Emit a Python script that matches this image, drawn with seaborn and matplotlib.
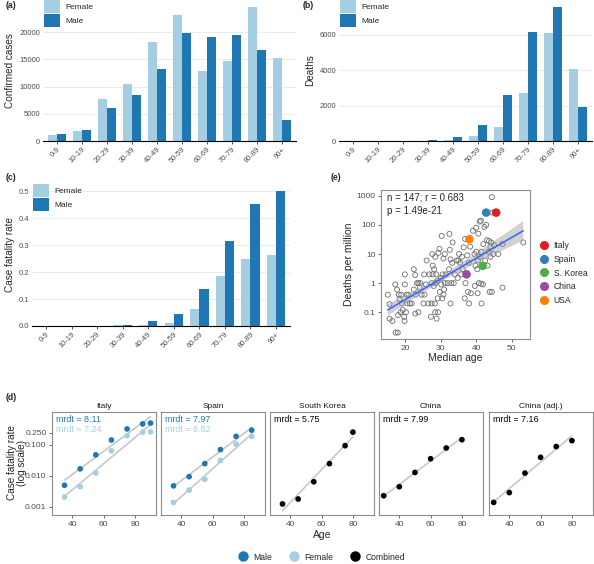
import numpy as np
import pandas as pd
import matplotlib
matplotlib.use("Agg")
import matplotlib.pyplot as plt
from matplotlib.lines import Line2D
import seaborn as sns

# ---- data ----
age_groups = ["0-9", "10-19", "20-29", "30-39", "40-49", "50-59", "60-69", "70-79", "80-89", "90+"]
cases_female = [1030, 1880, 7720, 10450, 18180, 23100, 12950, 14710, 24680, 15200]
cases_male = [1200, 1950, 6140, 8510, 13190, 19820, 19090, 19510, 16780, 3890]
deaths_female = [0, 0, 2, 22, 82, 280, 785, 2690, 6090, 4055]
deaths_male = [0, 0, 3, 43, 225, 880, 2580, 6170, 7590, 1945]
cfr_female = [0, 0, 0.0003, 0.0021, 0.0045, 0.012, 0.062, 0.184, 0.247, 0.265]
cfr_male = [0, 0, 0.0005, 0.005, 0.017, 0.045, 0.136, 0.317, 0.453, 0.502]

# panel (d)
italy_age = [35, 45, 55, 65, 75, 85, 90]
italy_male = [0.005, 0.017, 0.048, 0.145, 0.33, 0.48, 0.51]
italy_female = [0.0021, 0.0045, 0.0126, 0.065, 0.2, 0.26, 0.265]
spain_age = [35, 45, 55, 65, 75, 85]
spain_male = [0.0048, 0.0095, 0.025, 0.071, 0.19, 0.30]
spain_female = [0.0014, 0.0035, 0.0078, 0.032, 0.107, 0.19]
korea_age = [35, 45, 55, 65, 75, 80]
korea_cfr = [0.00125, 0.0018, 0.0065, 0.025, 0.095, 0.26]
china_age = [30, 40, 50, 60, 70, 80]
china_cfr = [0.0023, 0.0045, 0.013, 0.036, 0.08, 0.148]
china_adj_cfr = [0.0014, 0.0029, 0.0124, 0.040, 0.089, 0.138]
mrdt_labels = {
    "Italy": [("mrdt = 8.11", "Male"), ("mrdt = 7.24", "Female")],
    "Spain": [("mrdt = 7.97", "Male"), ("mrdt = 6.82", "Female")],
    "South Korea": [("mrdt = 5.75", "Combined")],
    "China": [("mrdt = 7.99", "Combined")],
    "China (adj.)": [("mrdt = 7.16", "Combined")],
}

# panel (e)
median_age = [15.2, 15.7, 15.7, 16.5, 17.3, 17.8, 18.1, 17.4, 18.0, 18.3, 18.5, 18.8,
              19.0, 19.2, 19.4, 19.8, 19.9, 20.0, 20.0, 20.5, 21.0, 20.7, 21.4, 21.9, 20.3,
              22.5, 22.9, 22.5, 22.9, 23.8, 23.4, 23.8, 24.3, 24.7, 25.4, 25.5, 25.2, 24.2,
              23.0, 25.9, 26.1, 26.6, 27.5, 28.4, 27.3, 28.9, 28.5, 29.3, 27.7, 28.5, 27.8,
              28.2, 29.4, 29.7, 28.8, 27.8, 26.9, 27.5, 28.1, 29.1, 29.8, 28.6, 29.2, 30.3,
              30.8, 31.2, 32.5, 32.6, 32.8, 32.4, 30.6, 31.5, 30.1, 31.2, 32.0, 30.2, 31.0,
              30.8, 32.8, 33.4, 33.0, 33.7, 34.0, 30.5, 33.3, 34.5, 35.0, 35.5, 36.0, 36.5,
              36.9, 35.2, 35.8, 36.2, 34.8, 37.0, 37.7, 38.5, 38.0, 36.8, 37.9, 37.5, 38.3,
              39.1, 40.0, 40.6, 41.0, 41.3, 39.5, 40.0, 40.5, 41.0, 41.5, 39.8, 40.3, 40.8,
              41.4, 41.9, 40.4, 41.5, 39.6, 42.0, 42.3, 42.8, 43.0, 43.6, 44.2, 43.5, 44.0,
              42.5, 43.2, 44.0, 44.8, 43.8, 44.4, 44.4, 44.5, 45.0, 46.2, 47.4, 47.4, 53.2]
deaths_per_million = [0.4, 0.19, 0.06, 0.05, 0.9, 0.6, 0.08, 0.02, 0.02, 0.4, 0.28, 0.1,
                      0.4, 0.2, 0.12, 0.07, 0.05, 2.0, 0.9, 0.4, 0.4, 0.2, 0.2, 0.2, 0.1,
                      3.0, 1.9, 0.6, 0.09, 0.1, 1.0, 1.0, 1.0, 0.4, 2.0, 0.4, 0.2, 0.7,
                      0.4, 0.9, 6.0, 0.2, 0.2, 0.2, 0.07, 0.06, 0.1, 0.1, 10, 8, 4,
                      3, 11, 15, 2.0, 2.0, 2.0, 1.0, 0.8, 1.2, 0.5, 1.0, 0.3, 42,
                      7, 10, 49, 14, 6.6, 3, 2, 2, 1.5, 1.0, 1.0, 0.9, 0.6,
                      0.4, 0.2, 25, 1.0, 1.0, 2, 0.3, 5, 6, 6, 5, 8, 17,
                      33, 10, 2.0, 3, 1.5, 1.0, 0.5, 0.45, 0.2, 0.3, 5, 9, 18,
                      63, 80, 50, 130, 140, 10, 12, 6, 8, 12, 4, 3, 1.0,
                      0.95, 0.9, 0.45, 0.2, 0.8, 22, 85, 100, 30, 28, 25, 12, 18,
                      6, 4, 8, 10, 0.5, 0.5, 900, 265, 20, 10, 22, 0.7, 25]
hl_country = ["Italy", "Spain", "S. Korea", "China", "USA"]
hl_age = [45.6, 42.8, 41.8, 37.3, 38.1]
hl_deaths = [265, 265, 3.9, 2.0, 32]

# ---- style ----
sns.set_theme(style="white")
plt.rcParams["font.family"] = ["Liberation Sans", "DejaVu Sans"]
female_c, male_c = "#A6CEE3", "#1F78B4"
sex_colors = {"Female": female_c, "Male": male_c}
tick_c = "#4d4d4d"
W, H = 594, 564


def rect(l, t, r, b):
    return [l / W, 1 - b / H, (r - l) / W, (b - t) / H]


fig = plt.figure(figsize=(W / 100, H / 100), dpi=100)


def bar_panel(box, female, male, ylabel, yticks, ylim, tag, tagxy):
    ax = fig.add_axes(rect(*box))
    df = pd.DataFrame({"age": age_groups * 2,
                       "sex": ["Female"] * 10 + ["Male"] * 10,
                       "value": female + male})
    sns.barplot(data=df, x="age", y="value", hue="sex", palette=sex_colors,
                hue_order=["Female", "Male"], width=0.72, saturation=1,
                edgecolor="none", ax=ax)
    ax.set_xlim(-0.55, 9.55)
    ax.set_ylim(*ylim)
    ax.set_yticks(yticks)
    ax.yaxis.grid(True, color="#ebebeb", lw=0.7)
    ax.set_axisbelow(True)
    for s in ["left", "top", "right"]:
        ax.spines[s].set_visible(False)
    ax.spines["bottom"].set_color("black")
    ax.spines["bottom"].set_linewidth(0.8)
    ax.tick_params(axis="x", length=2.5, width=0.6, color="#333333", labelsize=5.5,
                   labelcolor=tick_c, pad=1, bottom=True)
    ax.tick_params(axis="y", length=0, labelsize=5.5, labelcolor=tick_c, pad=2)
    plt.setp(ax.get_xticklabels(), rotation=45, ha="right", rotation_mode="anchor")
    ax.set_xlabel("")
    ax.set_ylabel(ylabel, fontsize=7.2, labelpad=3)
    ax.legend(loc="upper left", bbox_to_anchor=(0.005, 1.0), frameon=False, fontsize=6,
              handlelength=1.9, handleheight=2.0, labelspacing=0.12, borderaxespad=0,
              borderpad=0.0, handletextpad=0.6)
    fig.text(tagxy[0] / W, 1 - tagxy[1] / H, tag, fontsize=6.3, fontweight="bold",
             ha="left", va="center")
    return ax


ax_a = bar_panel((43, 0, 296, 141), cases_female, cases_male, "Confirmed cases",
                 [0, 5000, 10000, 15000, 20000], (0, 25900), "(a)", (6, 6))
ax_b = bar_panel((339, 0, 592, 141), deaths_female, deaths_male, "Deaths",
                 [0, 2000, 4000, 6000], (0, 7970), "(b)", (303, 6))
ax_c = bar_panel((32, 184, 290, 326), cfr_female, cfr_male, "Case fatality rate",
                 [0, 0.1, 0.2, 0.3, 0.4, 0.5], (0, 0.527), "(c)", (6, 177))
ax_c.set_yticklabels(["0.0", "0.1", "0.2", "0.3", "0.4", "0.5"])

# ---- panel (e) ----
ax_e = fig.add_axes(rect(381, 190, 530, 339))
all_age = median_age + hl_age
all_logd = list(np.log10(deaths_per_million + hl_deaths))
sns.scatterplot(x=median_age, y=np.log10(deaths_per_million), color="none",
                edgecolor="#6e6e6e", linewidth=0.6, s=13, ax=ax_e)
n_before = len(ax_e.collections)
sns.regplot(x=all_age, y=all_logd, scatter=False, color="#3366FF",
            line_kws={"lw": 1.1}, ax=ax_e)
for coll in ax_e.collections[n_before:]:
    coll.set_facecolor("#999999")
    coll.set_alpha(0.45)
    coll.set_edgecolor("none")
ax_e.lines[-1].set_zorder(3)
country_pal = {"Italy": "#E41A1C", "Spain": "#377EB8", "S. Korea": "#4DAF4A",
               "China": "#984EA3", "USA": "#FF7F00"}
sns.scatterplot(x=hl_age, y=np.log10(hl_deaths), hue=hl_country, hue_order=hl_country,
                palette=country_pal, s=38, edgecolor="none", ax=ax_e, legend=False, zorder=4)
ax_e.set_xlim(13.3, 55.1)
ax_e.set_ylim(-1.92, 3.2)
ax_e.set_xticks([20, 30, 40, 50])
ax_e.set_yticks([-1, 0, 1, 2, 3])
ax_e.set_yticklabels(["0.1", "1", "10", "100", "1000"])
for s in ax_e.spines.values():
    s.set_color("#8c8c8c")
    s.set_linewidth(0.8)
ax_e.tick_params(length=2.5, width=0.6, color="#555555", labelsize=6, labelcolor=tick_c,
                 pad=1.5, bottom=True, left=True)
ax_e.set_xlabel("Median age", fontsize=7.5, labelpad=1)
ax_e.set_ylabel("Deaths per million", fontsize=7.5, labelpad=2)
ax_e.text(0.04, 0.985, "n = 147; r = 0.683\np = 1.49e-21", transform=ax_e.transAxes,
          va="top", ha="left", fontsize=7, linespacing=1.45)
e_handles = [Line2D([], [], marker="o", ls="", color=country_pal[c], markersize=5.5)
             for c in hl_country]
fig.legend(e_handles, hl_country, loc="center left",
           bbox_to_anchor=(532 / W, 1 - 273 / H), frameon=False, fontsize=6.2,
           handlelength=1.0, handletextpad=0.6, labelspacing=0.55)
fig.text(331 / W, 1 - 177 / H, "(e)", fontsize=6.3, fontweight="bold", ha="left", va="center")

# ---- panel (d) ----
rows = []
for a, m, f in zip(italy_age, italy_male, italy_female):
    rows += [("Italy", "Male", a, m), ("Italy", "Female", a, f)]
for a, m, f in zip(spain_age, spain_male, spain_female):
    rows += [("Spain", "Male", a, m), ("Spain", "Female", a, f)]
for a, v in zip(korea_age, korea_cfr):
    rows.append(("South Korea", "Combined", a, v))
for a, v, va in zip(china_age, china_cfr, china_adj_cfr):
    rows += [("China", "Combined", a, v), ("China (adj.)", "Combined", a, va)]
dfd = pd.DataFrame(rows, columns=["panel", "group", "age", "cfr"])
dfd["log_cfr"] = np.log10(dfd["cfr"])
group_colors = {"Male": male_c, "Female": female_c, "Combined": "black"}

panels = ["Italy", "Spain", "South Korea", "China", "China (adj.)"]
lefts = [52, 161, 270, 379, 489]
for i, (name, l) in enumerate(zip(panels, lefts)):
    ax = fig.add_axes(rect(l, 412, l + 104, 515))
    sub = dfd[dfd["panel"] == name]
    for grp in ["Female", "Male", "Combined"]:
        g = sub[sub["group"] == grp]
        if len(g) == 0:
            continue
        sns.regplot(data=g, x="age", y="log_cfr", scatter=False, ci=None,
                    color="#c8c8c8", line_kws={"lw": 1.2}, ax=ax)
    for grp in ["Female", "Male", "Combined"]:
        g = sub[sub["group"] == grp]
        if len(g) == 0:
            continue
        sns.scatterplot(data=g, x="age", y="log_cfr", color=group_colors[grp],
                        s=17, edgecolor="none", ax=ax, legend=False, zorder=3)
    ax.set_xlim(27, 93.5)
    ax.set_ylim(-3.26, 0.065)
    ax.set_xticks([40, 60, 80])
    ax.set_yticks([-3, -2, -1, np.log10(0.25)])
    if i == 0:
        ax.set_yticklabels(["0.001", "0.010", "0.100", "0.250"])
    else:
        ax.set_yticklabels([])
        ax.tick_params(axis="y", length=0)
    for s in ax.spines.values():
        s.set_color("#8c8c8c")
        s.set_linewidth(0.8)
    ax.tick_params(length=2.5, width=0.6, color="#555555", labelsize=6, labelcolor=tick_c,
                   pad=1.5, bottom=True, left=(i == 0))
    ax.set_xlabel("")
    ax.set_ylabel("")
    ax.set_title(name, fontsize=6, color="#1a1a1a", pad=3)
    for k, (txt, grp) in enumerate(mrdt_labels[name]):
        ax.text(0.04, 0.975 - k * 0.105, txt, transform=ax.transAxes, va="top", ha="left",
                fontsize=6.4, color=group_colors[grp])

fig.text(17 / W, 1 - 463 / H, "Case fatality rate\n(log scale)", rotation=90,
         fontsize=7.2, ha="center", va="center", linespacing=1.0)
fig.text(322 / W, 1 - 535 / H, "Age", fontsize=7.5, ha="center", va="center")
fig.text(6 / W, 1 - 397 / H, "(d)", fontsize=6.3, fontweight="bold", ha="left", va="center")

d_handles = [Line2D([], [], marker="o", ls="", color=group_colors[g], markersize=6.5)
             for g in ["Male", "Female", "Combined"]]
fig.legend(d_handles, ["Male", "Female", "Combined"], loc="center",
           bbox_to_anchor=(322 / W, 1 - 557 / H), ncol=3, frameon=False, fontsize=6.2,
           handlelength=1.0, handletextpad=0.7, columnspacing=2.0)

fig.savefig("out.png", dpi=100)
